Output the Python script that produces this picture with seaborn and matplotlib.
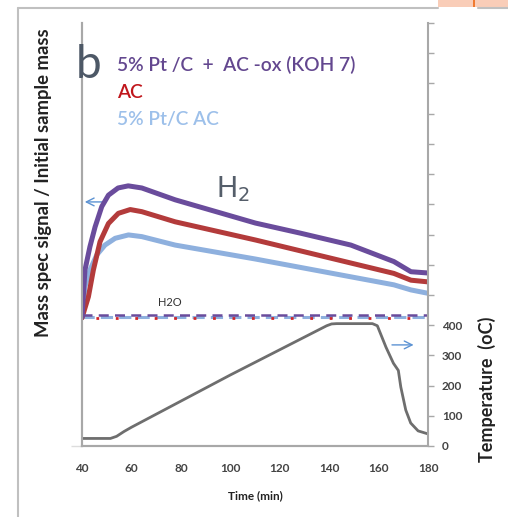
import matplotlib
matplotlib.use("Agg")
import matplotlib.pyplot as plt
from matplotlib.lines import Line2D
from matplotlib.patches import Rectangle
import seaborn as sns
import pandas as pd

# ---------------- data ----------------
purple_t = [40, 41.2, 43.2, 45.3, 48, 50.7, 54.6, 58.7, 64.2, 77.7, 110.2, 128.5, 148.8, 166.2, 173.1, 180]
purple_s = [30.5, 41.6, 47.1, 51.8, 56.6, 59.3, 61.0, 61.5, 61.0, 58.2, 52.7, 50.3, 47.5, 43.6, 41.2, 40.9]

red_t = [40, 42.6, 44.6, 47.3, 50.7, 54.7, 59.5, 64.2, 77.7, 110.2, 166.2, 173.1, 180]
red_s = [30.3, 35.3, 41.6, 48.3, 52.6, 55.0, 55.9, 55.4, 53.0, 48.7, 40.8, 39.2, 38.8]

blue_t = [40, 41.2, 43.2, 46, 49.3, 53.4, 58.8, 64.2, 77.7, 110.2, 166.2, 173.1, 180]
blue_s = [30.3, 37.7, 41.6, 45.2, 47.5, 49.1, 49.9, 49.5, 47.5, 44.2, 38.1, 36.9, 36.1]

h2o_t = [40, 180]
h2o_purple = [31.0, 31.0]
h2o_red = [30.3, 30.3]
h2o_blue = [30.6, 30.6]

temp_t = [40, 51.5, 54, 57, 60, 100, 139, 141, 143, 157.5, 159.5, 163, 166, 168, 169, 171, 173, 176, 180]
temp_T = [25, 25, 32, 48, 62, 235, 398, 404, 405, 405, 398, 327, 274, 250, 195, 119, 76, 50, 40]

x_ticks = [40, 60, 80, 100, 120, 140, 160, 180]
temp_ticks = list(range(0, 1500, 100))
temp_labels = ["0", "100", "200", "300", "400"]

legend_labels = ["5% Pt /C  +  AC -ox (KOH 7)", "AC", "5% Pt/C AC"]

# ---------------- styling ----------------
sns.set_style("white")
plt.rcParams['font.family'] = ['Lato', 'DejaVu Sans']

c_purple = "#6a4c9c"
c_red = "#b33b3b"
c_blue = "#8eb0de"
c_gray = "#6e6e6e"
spine_c = "#a8a8a8"

fig = plt.figure(figsize=(5.08, 5.17), dpi=100)
ax = fig.add_axes([82/508, 71/517, 346/508, 423/517])
ax2 = ax.twinx()

df_p = pd.DataFrame({"t": purple_t, "s": purple_s})
df_r = pd.DataFrame({"t": red_t, "s": red_s})
df_b = pd.DataFrame({"t": blue_t, "s": blue_s})

sns.lineplot(data=df_b, x="t", y="s", ax=ax, color=c_blue, lw=3.6, zorder=3)
sns.lineplot(data=df_r, x="t", y="s", ax=ax, color=c_red, lw=3.6, zorder=4)
sns.lineplot(data=df_p, x="t", y="s", ax=ax, color=c_purple, lw=3.6, zorder=5)

sns.lineplot(x=h2o_t, y=h2o_blue, ax=ax, color=c_blue, lw=2.2, zorder=3,
             linestyle=(0, (4, 2)))
sns.lineplot(x=h2o_t, y=h2o_red, ax=ax, color="#d0262a", lw=2.0, zorder=4,
             linestyle=(2, (1, 6)))
sns.lineplot(x=h2o_t, y=h2o_purple, ax=ax, color=c_purple, lw=1.8, zorder=5,
             linestyle=(0, (4, 2.5)))

sns.lineplot(x=temp_t, y=temp_T, ax=ax2, color=c_gray, lw=2.0)

ax.set_xlim(40, 180)
ax.set_ylim(0, 100)
ax2.set_ylim(0, 1400)

ax.set_xticks(x_ticks)
ax.set_xticklabels([str(v) for v in x_ticks], fontsize=8.5, fontweight="bold", color="#444444")
ax.set_yticks([0])
ax.set_yticklabels([""])
ax.tick_params(axis="y", length=8, width=1, color="#dddddd", direction="out")
ax.tick_params(axis="x", length=3, width=1, color=spine_c, direction="out", pad=9)

ax2.set_yticks(temp_ticks)
ax2.set_yticklabels(temp_labels + [""] * (len(temp_ticks) - len(temp_labels)),
                    fontsize=8.5, fontweight="bold", color="#444444")
ax2.tick_params(axis="y", length=4, width=1, color=spine_c, direction="out", pad=6)

ax.set_xlabel("Time (min)", fontsize=8.5, fontweight="bold", color="#222222", labelpad=12)
ax.set_ylabel("")
ax2.set_ylabel("")

for a in (ax, ax2):
    a.spines["top"].set_visible(False)
    for s in ("left", "right", "bottom"):
        a.spines[s].set_color(spine_c)
        a.spines[s].set_linewidth(1.5)
    a.set_facecolor("none")
ax.spines["right"].set_visible(False)

# axis titles as figure text
fig.text(44/508, 1 - 183/517, "Mass spec signal / Initial sample mass", rotation=90,
         ha="center", va="center", fontsize=13.3, fontweight="bold", color="#222222")
fig.text(487/508, 1 - 389/517, "Temperature  (oC)", rotation=90,
         ha="center", va="center", fontsize=13, fontweight="bold", color="#222222")

# legend-like labels
ys = [65, 93, 120]
cols = ["#63478f", "#c0161c", "#9dc0ea"]
for lab, yy, cc in zip(legend_labels, ys, cols):
    fig.text(117/508, 1 - yy/517, lab, ha="left", va="center", fontsize=13.8,
             fontweight=600, color=cc)

fig.text(76/508, 1 - 78/517, "b", ha="left", va="baseline", fontsize=33, color="#4d5866")
fig.text(216/508, 1 - 197/517, r"H$_2$", ha="left", va="baseline", fontsize=20, color="#555e6a")
ax.text(70.8, 32.6, "H2O", fontsize=8, color="#333333", ha="left", va="bottom")

# arrows
ax.annotate("", xy=(40, 57.7), xytext=(50.6, 57.7),
            arrowprops=dict(arrowstyle="->", color="#5d93d3", lw=1.0, mutation_scale=14))
ax.annotate("", xy=(175.3, 23.9), xytext=(164.3, 23.9),
            arrowprops=dict(arrowstyle="->", color="#5d93d3", lw=1.0, mutation_scale=14))

# slide frame
fig.add_artist(Line2D([18/508, 18/508], [0, 1 - 8/517], color="#c0c0c0", lw=1.5))
fig.add_artist(Line2D([18/508, 438/508], [1 - 8/517, 1 - 8/517], color="#c0c0c0", lw=1.5))
fig.add_artist(Line2D([478/508, 1], [1 - 8/517, 1 - 8/517], color="#c0c0c0", lw=1.5))
fig.add_artist(Rectangle((438/508, 1 - 7/517), 70/508, 7/517, transform=fig.transFigure,
                         color="#f9cdb8", lw=0))
fig.add_artist(Rectangle((473/508, 1 - 7/517), 2/508, 7/517, transform=fig.transFigure,
                         color="#f07a30", lw=0))

fig.savefig("out.png", dpi=100)
